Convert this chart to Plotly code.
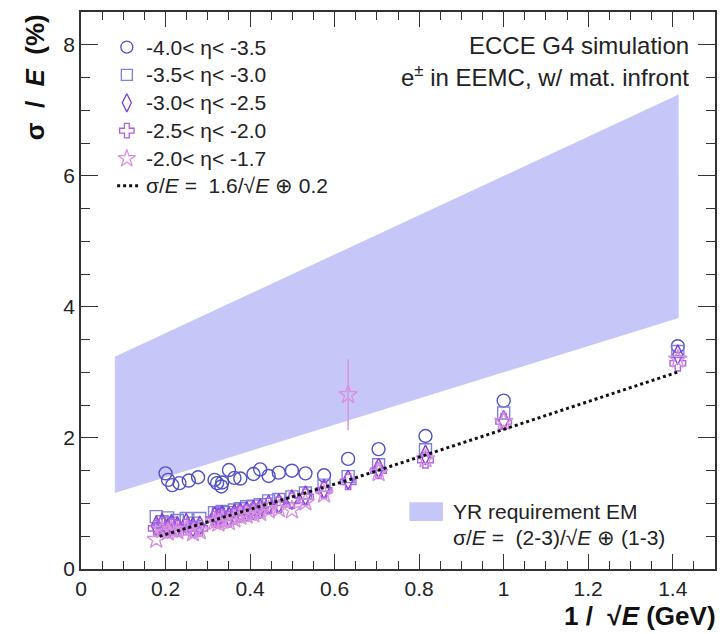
import plotly.graph_objects as go

# ---------------- data ----------------
circ_x = [0.200, 0.206, 0.216, 0.233, 0.255, 0.277, 0.316, 0.322, 0.332, 0.334, 0.350, 0.363, 0.377,
          0.408, 0.424, 0.444, 0.468, 0.499, 0.531, 0.575, 0.632, 0.704, 0.815, 1.000, 1.412]
circ_y = [1.46, 1.36, 1.28, 1.31, 1.35, 1.40, 1.36, 1.31, 1.26, 1.32, 1.51, 1.39, 1.38,
          1.45, 1.52, 1.42, 1.47, 1.50, 1.46, 1.43, 1.68, 1.83, 2.03, 2.57, 3.40]

low_x = [0.178, 0.192, 0.205, 0.214, 0.228, 0.249, 0.265, 0.281, 0.316, 0.325, 0.334, 0.350, 0.363, 0.377,
         0.392, 0.408, 0.424, 0.444, 0.468, 0.499, 0.531, 0.575, 0.632, 0.704, 0.815, 1.000, 1.412]
sq_y = [0.80, 0.72, 0.78, 0.70, 0.74, 0.77, 0.70, 0.77, 0.86, 0.84, 0.88, 0.86, 0.90, 0.92,
        0.95, 0.96, 0.98, 1.04, 1.06, 1.10, 1.16, 1.28, 1.41, 1.59, 1.82, 2.38, 3.32]
dia_y = [0.66, 0.70, 0.62, 0.68, 0.65, 0.70, 0.64, 0.66, 0.80, 0.78, 0.82, 0.80, 0.84, 0.86,
         0.88, 0.90, 0.92, 0.98, 1.00, 1.06, 1.12, 1.22, 1.36, 1.54, 1.74, 2.27, 3.27]
crs_y = [0.62, 0.66, 0.60, 0.64, 0.62, 0.64, 0.60, 0.62, 0.76, 0.75, 0.78, 0.76, 0.80, 0.84,
         0.86, 0.88, 0.90, 0.96, 0.98, 1.04, 1.10, 1.20, 1.33, 1.50, 1.66, 2.25, 3.14]
star_y = [0.45, 0.60, 0.56, 0.60, 0.58, 0.60, 0.55, 0.58, 0.72, 0.70, 0.74, 0.72, 0.76, 0.80,
          0.82, 0.84, 0.86, 0.90, 0.92, 0.90, 1.02, 1.14, 2.66, 1.47, 1.68, 2.25, 3.20]
star_err = [0, 0, 0, 0, 0, 0, 0, 0, 0, 0, 0, 0, 0, 0,
            0, 0, 0, 0, 0, 0, 0, 0, 0.54, 0, 0, 0, 0]

fit_x = [0.186, 0.400, 0.634, 1.000, 1.414]
fit_y = [0.50, 0.91, 1.36, 2.13, 3.01]

band_x = [0.08, 1.414]
band_lo = [1.16, 3.83]
band_hi = [3.24, 7.24]

series_labels = ["-4.0< η< -3.5", "-3.5< η< -3.0", "-3.0< η< -2.5", "-2.5< η< -2.0", "-2.0< η< -1.7"]
fit_label = "σ/<i>E</i> =  1.6/√<i>E</i> ⊕ 0.2"

# ---------------- styles ----------------
FONT = "Liberation Sans, Arial, sans-serif"
band_col = "#c6c6f8"
cols = ["#5050c8", "#8080dc", "#7b3fd6", "#b060e0", "#d890e0"]
symbols = ["circle-open", "square-open", "diamond-tall-open", "cross-open", "star-open"]
sizes = [13, 12, 14, 13, 14]

fig = go.Figure()

fig.add_trace(go.Scatter(
    x=[band_x[0], band_x[1], band_x[1], band_x[0]],
    y=[band_lo[0], band_lo[1], band_hi[1], band_hi[0]],
    fill="toself", fillcolor=band_col, line=dict(width=0), mode="lines",
    showlegend=False, hoverinfo="skip"))

series_y = [circ_y, sq_y, dia_y, crs_y, star_y]
series_x = [circ_x, low_x, low_x, low_x, low_x]
for i in range(5):
    kw = {}
    if i == 4:
        kw["error_y"] = dict(type="data", array=star_err, visible=True, color=cols[4], thickness=1.4, width=0)
    fig.add_trace(go.Scatter(x=series_x[i], y=series_y[i], mode="markers", name=series_labels[i],
                             showlegend=False,
                             marker=dict(symbol=symbols[i], color=cols[i], size=sizes[i], line=dict(width=1.4)),
                             **kw))
fig.add_trace(go.Scatter(x=fit_x, y=fit_y, mode="lines", name="fit", showlegend=False,
                         line=dict(color="#111111", width=3, dash="dot")))

# ---------------- manual legend (overlay axes in [0,1]) ----------------
leg_y = [0.937, 0.887, 0.837, 0.787, 0.737, 0.688]
for i in range(5):
    fig.add_trace(go.Scatter(x=[0.0723], y=[leg_y[i]], xaxis="x2", yaxis="y2", mode="markers",
                             showlegend=False, hoverinfo="skip",
                             marker=dict(symbol=symbols[i], color=cols[i], size=sizes[i] - 1,
                                         line=dict(width=1.3))))
    fig.add_annotation(text=series_labels[i], xref="x2", yref="y2", x=0.099, y=leg_y[i],
                       xanchor="left", yanchor="middle", showarrow=False,
                       font=dict(family=FONT, size=21, color="#222222"))
fig.add_trace(go.Scatter(x=[0.057, 0.090], y=[leg_y[5], leg_y[5]], xaxis="x2", yaxis="y2", mode="lines",
                         showlegend=False, hoverinfo="skip",
                         line=dict(color="#111111", width=3, dash="dot")))
fig.add_annotation(text=fit_label, xref="x2", yref="y2", x=0.099, y=leg_y[5],
                   xanchor="left", yanchor="middle", showarrow=False,
                   font=dict(family=FONT, size=21, color="#222222"))

axis_common = dict(showline=True, linecolor="#333333", linewidth=1.5, mirror="allticks",
                   ticks="inside", tickcolor="#333333", tickwidth=1.2, showgrid=False, zeroline=False,
                   tickfont=dict(family=FONT, size=21, color="#222222"))

fig.update_layout(
    xaxis=dict(range=[0, 1.5], ticklen=15,
               tickvals=[0, 0.2, 0.4, 0.6, 0.8, 1.0, 1.2, 1.4],
               ticktext=["0", "0.2", "0.4", "0.6", "0.8", "1", "1.2", "1.4"],
               minor=dict(dtick=0.05, tick0=0, ticklen=8, ticks="inside", tickcolor="#333333", tickwidth=1.2),
               **axis_common),
    yaxis=dict(range=[0, 8.5], dtick=2, tick0=0, ticklen=17,
               minor=dict(dtick=0.5, tick0=0, ticklen=9, ticks="inside", tickcolor="#333333", tickwidth=1.2),
               **axis_common),
    xaxis2=dict(range=[0, 1], overlaying="x", visible=False, fixedrange=True),
    yaxis2=dict(range=[0, 1], overlaying="y", visible=False, fixedrange=True),
)

fig.add_annotation(text="<b>σ  /  <i>E</i>  (%)</b>", xref="paper", yref="paper", x=-0.072, y=1.0,
                   xanchor="center", yanchor="top", textangle=-90, showarrow=False,
                   font=dict(family=FONT, size=26, color="#111111"))
fig.add_annotation(text="<b>1 /  √<i>E</i> (GeV)</b>", xref="paper", yref="paper", x=1.005, y=-0.084,
                   xanchor="right", yanchor="middle", showarrow=False,
                   font=dict(family=FONT, size=26, color="#111111"))

fig.add_annotation(text="ECCE G4 simulation", xref="paper", yref="paper", x=0.962, y=0.939,
                   xanchor="right", yanchor="middle", showarrow=False,
                   font=dict(family=FONT, size=24, color="#222222"))
fig.add_annotation(text="e<sup>±</sup> in EEMC, w/ mat. infront", xref="paper", yref="paper", x=0.962, y=0.885,
                   xanchor="right", yanchor="middle", showarrow=False,
                   font=dict(family=FONT, size=24, color="#222222"))

# YR requirement legend (bottom right)
fig.add_shape(type="rect", xref="paper", yref="paper", x0=0.518, x1=0.571, y0=0.086, y1=0.120,
              fillcolor=band_col, line=dict(width=0))
fig.add_annotation(text="YR requirement EM", xref="paper", yref="paper", x=0.583, y=0.104,
                   xanchor="left", yanchor="middle", showarrow=False,
                   font=dict(family=FONT, size=21, color="#222222"))
fig.add_annotation(text="σ/<i>E</i> =  (2-3)/√<i>E</i> ⊕ (1-3)", xref="paper", yref="paper", x=0.583, y=0.057,
                   xanchor="left", yanchor="middle", showarrow=False,
                   font=dict(family=FONT, size=21, color="#222222"))

fig.update_layout(
    width=722, height=634,
    margin=dict(l=81, r=5, t=12, b=65),
    plot_bgcolor="white", paper_bgcolor="white",
    showlegend=False,
)

fig.write_html("out.html")
